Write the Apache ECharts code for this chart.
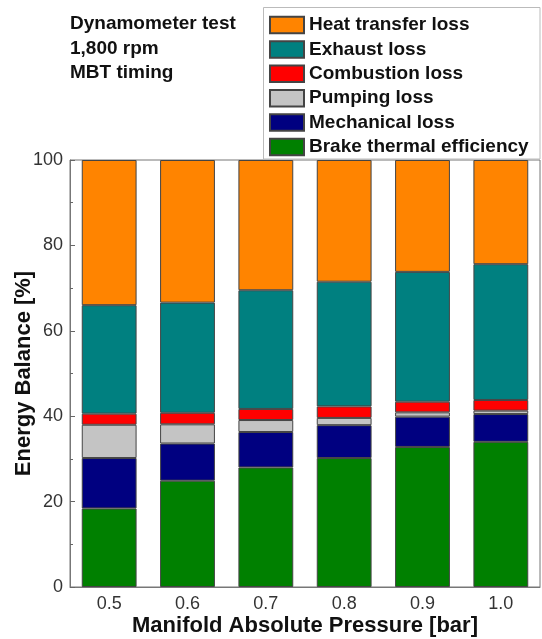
<!DOCTYPE html>
<html>
<head>
<meta charset="utf-8">
<script src="https://cdn.jsdelivr.net/npm/echarts@6/dist/echarts.min.js"></script>
<style>
  html, body { margin: 0; padding: 0; background: #fff; }
  #chart { width: 542px; height: 639px; }
</style>
</head>
<body>
<div id="chart"></div>
<script>
// Manifold absolute pressure settings [bar]
const pressures = ['0.5', '0.6', '0.7', '0.8', '0.9', '1.0'];

// Energy balance shares [%], bottom of the stack to the top
const brakeThermalEfficiency = [18.4, 24.9, 28.0, 30.2, 32.8, 34.0];
const mechanicalLoss         = [11.8, 8.7, 8.3, 7.7, 7.1, 6.5];
const pumpingLoss            = [7.8, 4.5, 2.8, 1.7, 1.0, 0.8];
const combustionLoss         = [2.6, 2.7, 2.6, 2.7, 2.5, 2.5];
const exhaustLoss            = [25.4, 25.8, 27.8, 29.2, 30.4, 31.8];
const heatTransferLoss       = [34.0, 33.4, 30.5, 28.5, 26.2, 24.4];

const yTicks = [0, 20, 40, 60, 80, 100];

const FONT = '"Liberation Sans", Arial, sans-serif';

const layers = [
  { name: 'Brake thermal efficiency', data: brakeThermalEfficiency, color: '#008000' },
  { name: 'Mechanical loss',          data: mechanicalLoss,         color: '#000080' },
  { name: 'Pumping loss',             data: pumpingLoss,            color: '#c4c4c4' },
  { name: 'Combustion loss',          data: combustionLoss,         color: '#ff0000' },
  { name: 'Exhaust loss',             data: exhaustLoss,            color: '#008080' },
  { name: 'Heat transfer loss',       data: heatTransferLoss,       color: '#ff8400' }
];

const chart = echarts.init(document.getElementById('chart'), null, { renderer: 'canvas' });

chart.setOption({
  animation: false,
  title: {
    text: 'Dynamometer test\n1,800 rpm\nMBT timing',
    left: 70,
    top: 12,
    padding: 0,
    textStyle: {
      fontFamily: FONT,
      fontSize: 19,
      fontWeight: 'bold',
      color: '#111',
      lineHeight: 24.3
    }
  },
  // frame around the legend
  graphic: [{
    type: 'rect',
    z: 5,
    shape: { x: 263.5, y: 7.5, width: 276.5, height: 151.5 },
    style: { fill: '#fff', stroke: '#bbb', lineWidth: 1 }
  }],
  legend: {
    orient: 'vertical',
    left: 269,
    top: 15.5,
    padding: 0,
    itemWidth: 34,
    itemHeight: 16.5,
    itemGap: 5.4,
    z: 10,
    icon: 'rect',
    data: layers.map(l => l.name).reverse(),
    textStyle: {
      fontFamily: FONT,
      fontSize: 19,
      lineHeight: 19,
      fontWeight: 'bold',
      color: '#111'
    },
    selectedMode: false
  },
  grid: {
    left: 70,
    right: 2,
    top: 160,
    bottom: 52,
    containLabel: false,
    outerBoundsMode: 'none',
    show: true,
    borderColor: '#777',
    borderWidth: 1,
    backgroundColor: 'transparent'
  },
  xAxis: [
    {
      type: 'category',
      data: pressures,
      boundaryGap: true,
      name: 'Manifold Absolute Pressure [bar]',
      nameLocation: 'middle',
      nameGap: 28,
      nameMoveOverlap: false,
      nameTextStyle: { fontFamily: FONT, fontSize: 22, fontWeight: 'bold', color: '#111' },
      axisLine: { lineStyle: { color: '#777', width: 1 } },
      axisTick: { inside: true, alignWithLabel: true, length: 5, lineStyle: { color: '#666' } },
      axisLabel: { fontFamily: FONT, fontSize: 18, color: '#333', margin: 8 },
      splitLine: { show: false }
    },
    {
      // boundary ticks between the categories
      type: 'category',
      data: pressures,
      position: 'bottom',
      boundaryGap: true,
      axisLine: { show: false },
      axisTick: { inside: true, alignWithLabel: false, length: 3, lineStyle: { color: '#666' } },
      axisLabel: { show: false },
      splitLine: { show: false }
    }
  ],
  yAxis: {
    type: 'value',
    min: yTicks[0],
    max: yTicks[yTicks.length - 1],
    interval: 20,
    name: 'Energy Balance [%]',
    nameLocation: 'middle',
    nameGap: 35,
    nameMoveOverlap: false,
    nameTextStyle: { fontFamily: FONT, fontSize: 22, fontWeight: 'bold', color: '#111' },
    axisLine: { show: true, lineStyle: { color: '#777', width: 1 } },
    axisTick: { show: true, inside: true, length: 5, lineStyle: { color: '#666' } },
    minorTick: { show: true, splitNumber: 2, length: 3, lineStyle: { color: '#666' } },
    axisLabel: { fontFamily: FONT, fontSize: 18, color: '#333', margin: 7 },
    splitLine: { show: false }
  },
  series: layers.map(l => ({
    name: l.name,
    type: 'bar',
    stack: 'balance',
    xAxisIndex: 0,
    barWidth: '70%',
    data: l.data,
    itemStyle: {
      color: l.color,
      borderColor: '#444',
      borderWidth: 1
    }
  }))
});
</script>
</body>
</html>
